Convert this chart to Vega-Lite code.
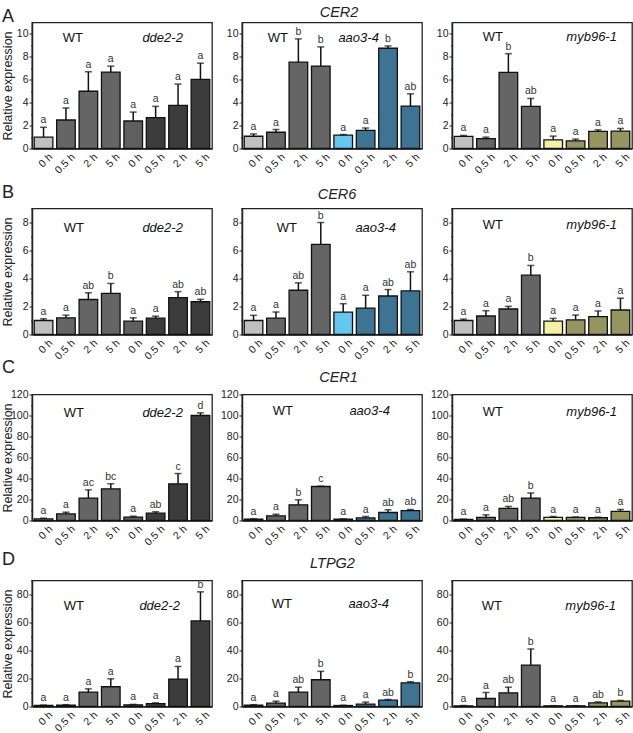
{
"$schema":"https://vega.github.io/schema/vega-lite/v6.json",
"padding":{"top":3.5,"left":0,"right":0,"bottom":0},
"datasets":{"rows":[
{"gene":"CER2","mut":"dde2-2","g":"WT","t":"0 h","v":1.0,"e":0.85,"l":"a"},
{"gene":"CER2","mut":"dde2-2","g":"WT","t":"0.5 h","v":2.49,"e":1.05,"l":"a"},
{"gene":"CER2","mut":"dde2-2","g":"WT","t":"2 h","v":5.0,"e":1.7,"l":"a"},
{"gene":"CER2","mut":"dde2-2","g":"WT","t":"5 h","v":6.67,"e":0.52,"l":"a"},
{"gene":"CER2","mut":"dde2-2","g":"dde2-2","t":"0 h","v":2.4,"e":0.78,"l":"a"},
{"gene":"CER2","mut":"dde2-2","g":"dde2-2","t":"0.5 h","v":2.7,"e":0.98,"l":"a"},
{"gene":"CER2","mut":"dde2-2","g":"dde2-2","t":"2 h","v":3.77,"e":1.85,"l":"a"},
{"gene":"CER2","mut":"dde2-2","g":"dde2-2","t":"5 h","v":6.03,"e":1.42,"l":"a"},
{"gene":"CER2","mut":"aao3-4","g":"WT","t":"0 h","v":1.07,"e":0.2,"l":"a"},
{"gene":"CER2","mut":"aao3-4","g":"WT","t":"0.5 h","v":1.42,"e":0.23,"l":"a"},
{"gene":"CER2","mut":"aao3-4","g":"WT","t":"2 h","v":7.54,"e":2.03,"l":"b"},
{"gene":"CER2","mut":"aao3-4","g":"WT","t":"5 h","v":7.2,"e":1.67,"l":"b"},
{"gene":"CER2","mut":"aao3-4","g":"aao3-4","t":"0 h","v":1.16,"e":0.06,"l":"a"},
{"gene":"CER2","mut":"aao3-4","g":"aao3-4","t":"0.5 h","v":1.59,"e":0.2,"l":"a"},
{"gene":"CER2","mut":"aao3-4","g":"aao3-4","t":"2 h","v":8.75,"e":0.2,"l":"b"},
{"gene":"CER2","mut":"aao3-4","g":"aao3-4","t":"5 h","v":3.7,"e":1.07,"l":"ab"},
{"gene":"CER2","mut":"myb96-1","g":"WT","t":"0 h","v":1.05,"e":0.09,"l":"a"},
{"gene":"CER2","mut":"myb96-1","g":"WT","t":"0.5 h","v":0.87,"e":0.12,"l":"a"},
{"gene":"CER2","mut":"myb96-1","g":"WT","t":"2 h","v":6.65,"e":1.63,"l":"b"},
{"gene":"CER2","mut":"myb96-1","g":"WT","t":"5 h","v":3.67,"e":0.7,"l":"ab"},
{"gene":"CER2","mut":"myb96-1","g":"myb96-1","t":"0 h","v":0.76,"e":0.32,"l":"a"},
{"gene":"CER2","mut":"myb96-1","g":"myb96-1","t":"0.5 h","v":0.67,"e":0.15,"l":"a"},
{"gene":"CER2","mut":"myb96-1","g":"myb96-1","t":"2 h","v":1.49,"e":0.14,"l":"a"},
{"gene":"CER2","mut":"myb96-1","g":"myb96-1","t":"5 h","v":1.52,"e":0.23,"l":"a"},
{"gene":"CER6","mut":"dde2-2","g":"WT","t":"0 h","v":1.0,"e":0.12,"l":"a"},
{"gene":"CER6","mut":"dde2-2","g":"WT","t":"0.5 h","v":1.19,"e":0.19,"l":"a"},
{"gene":"CER6","mut":"dde2-2","g":"WT","t":"2 h","v":2.5,"e":0.48,"l":"ab"},
{"gene":"CER6","mut":"dde2-2","g":"WT","t":"5 h","v":2.94,"e":0.71,"l":"b"},
{"gene":"CER6","mut":"dde2-2","g":"dde2-2","t":"0 h","v":0.95,"e":0.24,"l":"a"},
{"gene":"CER6","mut":"dde2-2","g":"dde2-2","t":"0.5 h","v":1.17,"e":0.14,"l":"a"},
{"gene":"CER6","mut":"dde2-2","g":"dde2-2","t":"2 h","v":2.63,"e":0.43,"l":"ab"},
{"gene":"CER6","mut":"dde2-2","g":"dde2-2","t":"5 h","v":2.34,"e":0.17,"l":"ab"},
{"gene":"CER6","mut":"aao3-4","g":"WT","t":"0 h","v":1.0,"e":0.37,"l":"a"},
{"gene":"CER6","mut":"aao3-4","g":"WT","t":"0.5 h","v":1.17,"e":0.43,"l":"a"},
{"gene":"CER6","mut":"aao3-4","g":"WT","t":"2 h","v":3.16,"e":0.53,"l":"ab"},
{"gene":"CER6","mut":"aao3-4","g":"WT","t":"5 h","v":6.44,"e":1.56,"l":"b"},
{"gene":"CER6","mut":"aao3-4","g":"aao3-4","t":"0 h","v":1.6,"e":0.6,"l":"a"},
{"gene":"CER6","mut":"aao3-4","g":"aao3-4","t":"0.5 h","v":1.89,"e":0.91,"l":"a"},
{"gene":"CER6","mut":"aao3-4","g":"aao3-4","t":"2 h","v":2.75,"e":0.46,"l":"ab"},
{"gene":"CER6","mut":"aao3-4","g":"aao3-4","t":"5 h","v":3.11,"e":1.37,"l":"ab"},
{"gene":"CER6","mut":"myb96-1","g":"WT","t":"0 h","v":1.0,"e":0.1,"l":"a"},
{"gene":"CER6","mut":"myb96-1","g":"WT","t":"0.5 h","v":1.32,"e":0.38,"l":"a"},
{"gene":"CER6","mut":"myb96-1","g":"WT","t":"2 h","v":1.82,"e":0.19,"l":"a"},
{"gene":"CER6","mut":"myb96-1","g":"WT","t":"5 h","v":4.24,"e":0.69,"l":"b"},
{"gene":"CER6","mut":"myb96-1","g":"myb96-1","t":"0 h","v":0.96,"e":0.19,"l":"a"},
{"gene":"CER6","mut":"myb96-1","g":"myb96-1","t":"0.5 h","v":1.05,"e":0.34,"l":"a"},
{"gene":"CER6","mut":"myb96-1","g":"myb96-1","t":"2 h","v":1.27,"e":0.41,"l":"a"},
{"gene":"CER6","mut":"myb96-1","g":"myb96-1","t":"5 h","v":1.75,"e":0.84,"l":"a"},
{"gene":"CER1","mut":"dde2-2","g":"WT","t":"0 h","v":1.6,"e":0.6,"l":"a"},
{"gene":"CER1","mut":"dde2-2","g":"WT","t":"0.5 h","v":6.3,"e":1.6,"l":"a"},
{"gene":"CER1","mut":"dde2-2","g":"WT","t":"2 h","v":21.3,"e":7.9,"l":"ac"},
{"gene":"CER1","mut":"dde2-2","g":"WT","t":"5 h","v":30.2,"e":4.8,"l":"bc"},
{"gene":"CER1","mut":"dde2-2","g":"dde2-2","t":"0 h","v":3.2,"e":0.9,"l":"a"},
{"gene":"CER1","mut":"dde2-2","g":"dde2-2","t":"0.5 h","v":7.0,"e":1.3,"l":"ab"},
{"gene":"CER1","mut":"dde2-2","g":"dde2-2","t":"2 h","v":34.9,"e":9.8,"l":"c"},
{"gene":"CER1","mut":"dde2-2","g":"dde2-2","t":"5 h","v":100,"e":2.5,"l":"d"},
{"gene":"CER1","mut":"aao3-4","g":"WT","t":"0 h","v":1.3,"e":0.3,"l":"a"},
{"gene":"CER1","mut":"aao3-4","g":"WT","t":"0.5 h","v":4.4,"e":1.6,"l":"a"},
{"gene":"CER1","mut":"aao3-4","g":"WT","t":"2 h","v":14.9,"e":4.8,"l":"b"},
{"gene":"CER1","mut":"aao3-4","g":"WT","t":"5 h","v":32.4,"e":0.3,"l":"c"},
{"gene":"CER1","mut":"aao3-4","g":"aao3-4","t":"0 h","v":1.3,"e":0.2,"l":"a"},
{"gene":"CER1","mut":"aao3-4","g":"aao3-4","t":"0.5 h","v":2.5,"e":1.3,"l":"a"},
{"gene":"CER1","mut":"aao3-4","g":"aao3-4","t":"2 h","v":7.6,"e":2.6,"l":"ab"},
{"gene":"CER1","mut":"aao3-4","g":"aao3-4","t":"5 h","v":9.5,"e":1.0,"l":"ab"},
{"gene":"CER1","mut":"myb96-1","g":"WT","t":"0 h","v":1.0,"e":0.3,"l":"a"},
{"gene":"CER1","mut":"myb96-1","g":"WT","t":"0.5 h","v":2.9,"e":2.5,"l":"a"},
{"gene":"CER1","mut":"myb96-1","g":"WT","t":"2 h","v":11.5,"e":1.9,"l":"ab"},
{"gene":"CER1","mut":"myb96-1","g":"WT","t":"5 h","v":21.4,"e":4.8,"l":"b"},
{"gene":"CER1","mut":"myb96-1","g":"myb96-1","t":"0 h","v":2.9,"e":0.9,"l":"a"},
{"gene":"CER1","mut":"myb96-1","g":"myb96-1","t":"0.5 h","v":2.9,"e":0.4,"l":"a"},
{"gene":"CER1","mut":"myb96-1","g":"myb96-1","t":"2 h","v":2.6,"e":0.5,"l":"a"},
{"gene":"CER1","mut":"myb96-1","g":"myb96-1","t":"5 h","v":8.6,"e":1.9,"l":"a"},
{"gene":"LTPG2","mut":"dde2-2","g":"WT","t":"0 h","v":0.7,"e":0.3,"l":"a"},
{"gene":"LTPG2","mut":"dde2-2","g":"WT","t":"0.5 h","v":1.0,"e":0.3,"l":"a"},
{"gene":"LTPG2","mut":"dde2-2","g":"WT","t":"2 h","v":10.3,"e":2.3,"l":"a"},
{"gene":"LTPG2","mut":"dde2-2","g":"WT","t":"5 h","v":14.1,"e":5.7,"l":"a"},
{"gene":"LTPG2","mut":"dde2-2","g":"dde2-2","t":"0 h","v":1.2,"e":0.3,"l":"a"},
{"gene":"LTPG2","mut":"dde2-2","g":"dde2-2","t":"0.5 h","v":2.1,"e":0.5,"l":"a"},
{"gene":"LTPG2","mut":"dde2-2","g":"dde2-2","t":"2 h","v":19.6,"e":9.0,"l":"a"},
{"gene":"LTPG2","mut":"dde2-2","g":"dde2-2","t":"5 h","v":61.1,"e":20.8,"l":"b"},
{"gene":"LTPG2","mut":"aao3-4","g":"WT","t":"0 h","v":1.0,"e":0.3,"l":"a"},
{"gene":"LTPG2","mut":"aao3-4","g":"WT","t":"0.5 h","v":2.4,"e":1.4,"l":"a"},
{"gene":"LTPG2","mut":"aao3-4","g":"WT","t":"2 h","v":10.3,"e":3.5,"l":"ab"},
{"gene":"LTPG2","mut":"aao3-4","g":"WT","t":"5 h","v":19.1,"e":6.0,"l":"b"},
{"gene":"LTPG2","mut":"aao3-4","g":"aao3-4","t":"0 h","v":0.7,"e":0.2,"l":"a"},
{"gene":"LTPG2","mut":"aao3-4","g":"aao3-4","t":"0.5 h","v":1.7,"e":1.4,"l":"a"},
{"gene":"LTPG2","mut":"aao3-4","g":"aao3-4","t":"2 h","v":4.5,"e":0.5,"l":"ab"},
{"gene":"LTPG2","mut":"aao3-4","g":"aao3-4","t":"5 h","v":16.9,"e":0.8,"l":"b"},
{"gene":"LTPG2","mut":"myb96-1","g":"WT","t":"0 h","v":0.5,"e":0.2,"l":"a"},
{"gene":"LTPG2","mut":"myb96-1","g":"WT","t":"0.5 h","v":5.7,"e":4.3,"l":"a"},
{"gene":"LTPG2","mut":"myb96-1","g":"WT","t":"2 h","v":9.8,"e":4.0,"l":"ab"},
{"gene":"LTPG2","mut":"myb96-1","g":"WT","t":"5 h","v":29.6,"e":11.5,"l":"b"},
{"gene":"LTPG2","mut":"myb96-1","g":"myb96-1","t":"0 h","v":0.5,"e":0.1,"l":"a"},
{"gene":"LTPG2","mut":"myb96-1","g":"myb96-1","t":"0.5 h","v":0.5,"e":0.1,"l":"a"},
{"gene":"LTPG2","mut":"myb96-1","g":"myb96-1","t":"2 h","v":2.6,"e":0.7,"l":"ab"},
{"gene":"LTPG2","mut":"myb96-1","g":"myb96-1","t":"5 h","v":3.8,"e":0.5,"l":"b"}
]},
"config":{
"font":"Liberation Sans",
"view":{"stroke":"#222","strokeWidth":1.3},
"axis":{"labelFont":"Liberation Sans","labelFontSize":10.5,"labelColor":"#222","tickColor":"#222","domainColor":"#222","domainWidth":1.5,"grid":false,"titleFont":"Liberation Sans","titleFontWeight":"normal","titleFontSize":12.5,"titleColor":"#222","tickSize":3,"labelPadding":1,"labelOverlap":false},
"axisY":{"labelOverlap":false,"labelFlush":false,"labelBound":false},
"axisQuantitative":{"labelOverlap":false},
"axisX":{"labelAngle":-45,"ticks":false,"labelPadding":3,"labelOffset":4},
"title":{"font":"Liberation Sans","fontWeight":"normal","color":"#222"},
"text":{"font":"Liberation Sans"}
},
"columns":3,
"bounds":"flush",
"spacing":{"row":60,"column":30},
"concat":[
{"width":180,"height":126,"data":{"name":"rows"},
"title":{"text":"A","anchor":"start","frame":"group","fontSize":18,"dx":-30,"offset":-17,"baseline":"alphabetic"},
"transform":[{"filter":"datum.gene=='CER2' && datum.mut=='dde2-2'"},{"calculate":"datum.g+'|'+datum.t","as":"k"},{"calculate":"datum.g+(datum.t=='0 h'?' 0':' t')","as":"ck"},{"calculate":"datum.v+datum.e","as":"hi"}],
"layer":[
{"mark":{"type":"bar","stroke":"#111","strokeWidth":1.3},"encoding":{"x":{"field":"k","type":"nominal","sort":null,"scale":{"paddingInner":0.17,"paddingOuter":0.1},"axis":{"title":null,"labelExpr":"split(datum.label,'|')[1]"}},"y":{"field":"v","type":"quantitative","scale":{"domain":[0,11],"nice":false},"axis":{"title":"Relative expression","titleX":-21,"titleY":63,"titleBaseline":"alphabetic","labelOverlap":false,"values":[0,1,2,3,4,5,6,7,8,9,10],"labelExpr":"datum.value % 2 ? '' : datum.label","tickSize":{"condition":{"test":"datum.value % 2","value":1.5},"value":3}}},"color":{"field":"ck","type":"nominal","scale":{"domain":["WT 0","WT t","dde2-2 0","dde2-2 t","aao3-4 0","aao3-4 t","myb96-1 0","myb96-1 t"],"range":["#c0c0c0","#656565","#5f5f5f","#3c3c3c","#66c6ef","#3e7493","#f4f1a6","#96945f"]},"legend":null}}},
{"mark":{"type":"rule","strokeWidth":1.5,"color":"#111"},"encoding":{"x":{"field":"k","type":"nominal","sort":null},"y":{"field":"v","type":"quantitative","axis":{"title":"Relative expression","titleX":-21,"titleY":63,"titleBaseline":"alphabetic","labelOverlap":false,"values":[0,1,2,3,4,5,6,7,8,9,10],"labelExpr":"datum.value % 2 ? '' : datum.label","tickSize":{"condition":{"test":"datum.value % 2","value":1.5},"value":3}}},"y2":{"field":"hi"}}},
{"mark":{"type":"tick","orient":"horizontal","size":7,"thickness":1.5,"color":"#111"},"encoding":{"x":{"field":"k","type":"nominal","sort":null},"y":{"field":"hi","type":"quantitative","axis":{"title":"Relative expression","titleX":-21,"titleY":63,"titleBaseline":"alphabetic","labelOverlap":false,"values":[0,1,2,3,4,5,6,7,8,9,10],"labelExpr":"datum.value % 2 ? '' : datum.label","tickSize":{"condition":{"test":"datum.value % 2","value":1.5},"value":3}}}}},
{"mark":{"type":"text","fontSize":10.5,"dy":-4,"baseline":"alphabetic","color":"#333"},"encoding":{"x":{"field":"k","type":"nominal","sort":null},"y":{"field":"hi","type":"quantitative","axis":{"title":"Relative expression","titleX":-21,"titleY":63,"titleBaseline":"alphabetic","labelOverlap":false,"values":[0,1,2,3,4,5,6,7,8,9,10],"labelExpr":"datum.value % 2 ? '' : datum.label","tickSize":{"condition":{"test":"datum.value % 2","value":1.5},"value":3}}},"text":{"field":"l"}}},
{"data":{"values":[{"s":"WT"}]},"mark":{"type":"text","fontSize":13,"dx":7,"baseline":"middle","color":"#111"},"encoding":{"x":{"datum":"WT|0.5 h","type":"nominal"},"y":{"datum":9.65,"type":"quantitative","axis":{"title":"Relative expression","titleX":-21,"titleY":63,"titleBaseline":"alphabetic","labelOverlap":false,"values":[0,1,2,3,4,5,6,7,8,9,10],"labelExpr":"datum.value % 2 ? '' : datum.label","tickSize":{"condition":{"test":"datum.value % 2","value":1.5},"value":3}}},"text":{"field":"s"}}},
{"data":{"values":[{"s":"dde2-2"}]},"mark":{"type":"text","fontSize":13,"fontStyle":"italic","dx":7,"baseline":"middle","color":"#111"},"encoding":{"x":{"datum":"dde2-2|0.5 h","type":"nominal"},"y":{"datum":9.65,"type":"quantitative","axis":{"title":"Relative expression","titleX":-21,"titleY":63,"titleBaseline":"alphabetic","labelOverlap":false,"values":[0,1,2,3,4,5,6,7,8,9,10],"labelExpr":"datum.value % 2 ? '' : datum.label","tickSize":{"condition":{"test":"datum.value % 2","value":1.5},"value":3}}},"text":{"field":"s"}}}
]},
{"width":180,"height":126,"data":{"name":"rows"},
"title":{"text":"CER2","fontStyle":"italic","fontSize":14.5,"dx":7,"offset":-8.5,"baseline":"alphabetic"},
"transform":[{"filter":"datum.gene=='CER2' && datum.mut=='aao3-4'"},{"calculate":"datum.g+'|'+datum.t","as":"k"},{"calculate":"datum.g+(datum.t=='0 h'?' 0':' t')","as":"ck"},{"calculate":"datum.v+datum.e","as":"hi"}],
"layer":[
{"mark":{"type":"bar","stroke":"#111","strokeWidth":1.3},"encoding":{"x":{"field":"k","type":"nominal","sort":null,"scale":{"paddingInner":0.17,"paddingOuter":0.1},"axis":{"title":null,"labelExpr":"split(datum.label,'|')[1]"}},"y":{"field":"v","type":"quantitative","scale":{"domain":[0,11],"nice":false},"axis":{"title":null,"labelOverlap":false,"values":[0,1,2,3,4,5,6,7,8,9,10],"labelExpr":"datum.value % 2 ? '' : datum.label","tickSize":{"condition":{"test":"datum.value % 2","value":1.5},"value":3}}},"color":{"field":"ck","type":"nominal","scale":{"domain":["WT 0","WT t","dde2-2 0","dde2-2 t","aao3-4 0","aao3-4 t","myb96-1 0","myb96-1 t"],"range":["#c0c0c0","#656565","#5f5f5f","#3c3c3c","#66c6ef","#3e7493","#f4f1a6","#96945f"]},"legend":null}}},
{"mark":{"type":"rule","strokeWidth":1.5,"color":"#111"},"encoding":{"x":{"field":"k","type":"nominal","sort":null},"y":{"field":"v","type":"quantitative","axis":{"title":null,"labelOverlap":false,"values":[0,1,2,3,4,5,6,7,8,9,10],"labelExpr":"datum.value % 2 ? '' : datum.label","tickSize":{"condition":{"test":"datum.value % 2","value":1.5},"value":3}}},"y2":{"field":"hi"}}},
{"mark":{"type":"tick","orient":"horizontal","size":7,"thickness":1.5,"color":"#111"},"encoding":{"x":{"field":"k","type":"nominal","sort":null},"y":{"field":"hi","type":"quantitative","axis":{"title":null,"labelOverlap":false,"values":[0,1,2,3,4,5,6,7,8,9,10],"labelExpr":"datum.value % 2 ? '' : datum.label","tickSize":{"condition":{"test":"datum.value % 2","value":1.5},"value":3}}}}},
{"mark":{"type":"text","fontSize":10.5,"dy":-4,"baseline":"alphabetic","color":"#333"},"encoding":{"x":{"field":"k","type":"nominal","sort":null},"y":{"field":"hi","type":"quantitative","axis":{"title":null,"labelOverlap":false,"values":[0,1,2,3,4,5,6,7,8,9,10],"labelExpr":"datum.value % 2 ? '' : datum.label","tickSize":{"condition":{"test":"datum.value % 2","value":1.5},"value":3}}},"text":{"field":"l"}}},
{"data":{"values":[{"s":"WT"}]},"mark":{"type":"text","fontSize":13,"dx":2,"baseline":"middle","color":"#111"},"encoding":{"x":{"datum":"WT|0.5 h","type":"nominal"},"y":{"datum":9.65,"type":"quantitative","axis":{"title":null,"labelOverlap":false,"values":[0,1,2,3,4,5,6,7,8,9,10],"labelExpr":"datum.value % 2 ? '' : datum.label","tickSize":{"condition":{"test":"datum.value % 2","value":1.5},"value":3}}},"text":{"field":"s"}}},
{"data":{"values":[{"s":"aao3-4"}]},"mark":{"type":"text","fontSize":13,"fontStyle":"italic","dx":-7,"baseline":"middle","color":"#111"},"encoding":{"x":{"datum":"aao3-4|0.5 h","type":"nominal"},"y":{"datum":9.65,"type":"quantitative","axis":{"title":null,"labelOverlap":false,"values":[0,1,2,3,4,5,6,7,8,9,10],"labelExpr":"datum.value % 2 ? '' : datum.label","tickSize":{"condition":{"test":"datum.value % 2","value":1.5},"value":3}}},"text":{"field":"s"}}}
]},
{"width":180,"height":126,"data":{"name":"rows"},
"transform":[{"filter":"datum.gene=='CER2' && datum.mut=='myb96-1'"},{"calculate":"datum.g+'|'+datum.t","as":"k"},{"calculate":"datum.g+(datum.t=='0 h'?' 0':' t')","as":"ck"},{"calculate":"datum.v+datum.e","as":"hi"}],
"layer":[
{"mark":{"type":"bar","stroke":"#111","strokeWidth":1.3},"encoding":{"x":{"field":"k","type":"nominal","sort":null,"scale":{"paddingInner":0.17,"paddingOuter":0.1},"axis":{"title":null,"labelExpr":"split(datum.label,'|')[1]"}},"y":{"field":"v","type":"quantitative","scale":{"domain":[0,11],"nice":false},"axis":{"title":null,"labelOverlap":false,"values":[0,1,2,3,4,5,6,7,8,9,10],"labelExpr":"datum.value % 2 ? '' : datum.label","tickSize":{"condition":{"test":"datum.value % 2","value":1.5},"value":3}}},"color":{"field":"ck","type":"nominal","scale":{"domain":["WT 0","WT t","dde2-2 0","dde2-2 t","aao3-4 0","aao3-4 t","myb96-1 0","myb96-1 t"],"range":["#c0c0c0","#656565","#5f5f5f","#3c3c3c","#66c6ef","#3e7493","#f4f1a6","#96945f"]},"legend":null}}},
{"mark":{"type":"rule","strokeWidth":1.5,"color":"#111"},"encoding":{"x":{"field":"k","type":"nominal","sort":null},"y":{"field":"v","type":"quantitative","axis":{"title":null,"labelOverlap":false,"values":[0,1,2,3,4,5,6,7,8,9,10],"labelExpr":"datum.value % 2 ? '' : datum.label","tickSize":{"condition":{"test":"datum.value % 2","value":1.5},"value":3}}},"y2":{"field":"hi"}}},
{"mark":{"type":"tick","orient":"horizontal","size":7,"thickness":1.5,"color":"#111"},"encoding":{"x":{"field":"k","type":"nominal","sort":null},"y":{"field":"hi","type":"quantitative","axis":{"title":null,"labelOverlap":false,"values":[0,1,2,3,4,5,6,7,8,9,10],"labelExpr":"datum.value % 2 ? '' : datum.label","tickSize":{"condition":{"test":"datum.value % 2","value":1.5},"value":3}}}}},
{"mark":{"type":"text","fontSize":10.5,"dy":-4,"baseline":"alphabetic","color":"#333"},"encoding":{"x":{"field":"k","type":"nominal","sort":null},"y":{"field":"hi","type":"quantitative","axis":{"title":null,"labelOverlap":false,"values":[0,1,2,3,4,5,6,7,8,9,10],"labelExpr":"datum.value % 2 ? '' : datum.label","tickSize":{"condition":{"test":"datum.value % 2","value":1.5},"value":3}}},"text":{"field":"l"}}},
{"data":{"values":[{"s":"WT"}]},"mark":{"type":"text","fontSize":13,"dx":7,"baseline":"middle","color":"#111"},"encoding":{"x":{"datum":"WT|0.5 h","type":"nominal"},"y":{"datum":9.75,"type":"quantitative","axis":{"title":null,"labelOverlap":false,"values":[0,1,2,3,4,5,6,7,8,9,10],"labelExpr":"datum.value % 2 ? '' : datum.label","tickSize":{"condition":{"test":"datum.value % 2","value":1.5},"value":3}}},"text":{"field":"s"}}},
{"data":{"values":[{"s":"myb96-1"}]},"mark":{"type":"text","fontSize":13,"fontStyle":"italic","dx":16,"baseline":"middle","color":"#111"},"encoding":{"x":{"datum":"myb96-1|0.5 h","type":"nominal"},"y":{"datum":9.75,"type":"quantitative","axis":{"title":null,"labelOverlap":false,"values":[0,1,2,3,4,5,6,7,8,9,10],"labelExpr":"datum.value % 2 ? '' : datum.label","tickSize":{"condition":{"test":"datum.value % 2","value":1.5},"value":3}}},"text":{"field":"s"}}}
]},
{"width":180,"height":126,"data":{"name":"rows"},
"title":{"text":"B","anchor":"start","frame":"group","fontSize":18,"dx":-30,"offset":-12,"baseline":"alphabetic"},
"transform":[{"filter":"datum.gene=='CER6' && datum.mut=='dde2-2'"},{"calculate":"datum.g+'|'+datum.t","as":"k"},{"calculate":"datum.g+(datum.t=='0 h'?' 0':' t')","as":"ck"},{"calculate":"datum.v+datum.e","as":"hi"}],
"layer":[
{"mark":{"type":"bar","stroke":"#111","strokeWidth":1.3},"encoding":{"x":{"field":"k","type":"nominal","sort":null,"scale":{"paddingInner":0.17,"paddingOuter":0.1},"axis":{"title":null,"labelExpr":"split(datum.label,'|')[1]"}},"y":{"field":"v","type":"quantitative","scale":{"domain":[0,9],"nice":false},"axis":{"title":"Relative expression","titleX":-21,"titleY":63,"titleBaseline":"alphabetic","labelOverlap":false,"values":[0,1,2,3,4,5,6,7,8,9],"labelExpr":"datum.value % 2 ? '' : datum.label","tickSize":{"condition":{"test":"datum.value % 2","value":1.5},"value":3}}},"color":{"field":"ck","type":"nominal","scale":{"domain":["WT 0","WT t","dde2-2 0","dde2-2 t","aao3-4 0","aao3-4 t","myb96-1 0","myb96-1 t"],"range":["#c0c0c0","#656565","#5f5f5f","#3c3c3c","#66c6ef","#3e7493","#f4f1a6","#96945f"]},"legend":null}}},
{"mark":{"type":"rule","strokeWidth":1.5,"color":"#111"},"encoding":{"x":{"field":"k","type":"nominal","sort":null},"y":{"field":"v","type":"quantitative","axis":{"title":"Relative expression","titleX":-21,"titleY":63,"titleBaseline":"alphabetic","labelOverlap":false,"values":[0,1,2,3,4,5,6,7,8,9],"labelExpr":"datum.value % 2 ? '' : datum.label","tickSize":{"condition":{"test":"datum.value % 2","value":1.5},"value":3}}},"y2":{"field":"hi"}}},
{"mark":{"type":"tick","orient":"horizontal","size":7,"thickness":1.5,"color":"#111"},"encoding":{"x":{"field":"k","type":"nominal","sort":null},"y":{"field":"hi","type":"quantitative","axis":{"title":"Relative expression","titleX":-21,"titleY":63,"titleBaseline":"alphabetic","labelOverlap":false,"values":[0,1,2,3,4,5,6,7,8,9],"labelExpr":"datum.value % 2 ? '' : datum.label","tickSize":{"condition":{"test":"datum.value % 2","value":1.5},"value":3}}}}},
{"mark":{"type":"text","fontSize":10.5,"dy":-4,"baseline":"alphabetic","color":"#333"},"encoding":{"x":{"field":"k","type":"nominal","sort":null},"y":{"field":"hi","type":"quantitative","axis":{"title":"Relative expression","titleX":-21,"titleY":63,"titleBaseline":"alphabetic","labelOverlap":false,"values":[0,1,2,3,4,5,6,7,8,9],"labelExpr":"datum.value % 2 ? '' : datum.label","tickSize":{"condition":{"test":"datum.value % 2","value":1.5},"value":3}}},"text":{"field":"l"}}},
{"data":{"values":[{"s":"WT"}]},"mark":{"type":"text","fontSize":13,"dx":8,"baseline":"middle","color":"#111"},"encoding":{"x":{"datum":"WT|0.5 h","type":"nominal"},"y":{"datum":7.6,"type":"quantitative","axis":{"title":"Relative expression","titleX":-21,"titleY":63,"titleBaseline":"alphabetic","labelOverlap":false,"values":[0,1,2,3,4,5,6,7,8,9],"labelExpr":"datum.value % 2 ? '' : datum.label","tickSize":{"condition":{"test":"datum.value % 2","value":1.5},"value":3}}},"text":{"field":"s"}}},
{"data":{"values":[{"s":"dde2-2"}]},"mark":{"type":"text","fontSize":13,"fontStyle":"italic","dx":7,"baseline":"middle","color":"#111"},"encoding":{"x":{"datum":"dde2-2|0.5 h","type":"nominal"},"y":{"datum":7.6,"type":"quantitative","axis":{"title":"Relative expression","titleX":-21,"titleY":63,"titleBaseline":"alphabetic","labelOverlap":false,"values":[0,1,2,3,4,5,6,7,8,9],"labelExpr":"datum.value % 2 ? '' : datum.label","tickSize":{"condition":{"test":"datum.value % 2","value":1.5},"value":3}}},"text":{"field":"s"}}}
]},
{"width":180,"height":126,"data":{"name":"rows"},
"title":{"text":"CER6","fontStyle":"italic","fontSize":14.5,"dx":5,"offset":-9.5,"baseline":"alphabetic"},
"transform":[{"filter":"datum.gene=='CER6' && datum.mut=='aao3-4'"},{"calculate":"datum.g+'|'+datum.t","as":"k"},{"calculate":"datum.g+(datum.t=='0 h'?' 0':' t')","as":"ck"},{"calculate":"datum.v+datum.e","as":"hi"}],
"layer":[
{"mark":{"type":"bar","stroke":"#111","strokeWidth":1.3},"encoding":{"x":{"field":"k","type":"nominal","sort":null,"scale":{"paddingInner":0.17,"paddingOuter":0.1},"axis":{"title":null,"labelExpr":"split(datum.label,'|')[1]"}},"y":{"field":"v","type":"quantitative","scale":{"domain":[0,9],"nice":false},"axis":{"title":null,"labelOverlap":false,"values":[0,1,2,3,4,5,6,7,8,9],"labelExpr":"datum.value % 2 ? '' : datum.label","tickSize":{"condition":{"test":"datum.value % 2","value":1.5},"value":3}}},"color":{"field":"ck","type":"nominal","scale":{"domain":["WT 0","WT t","dde2-2 0","dde2-2 t","aao3-4 0","aao3-4 t","myb96-1 0","myb96-1 t"],"range":["#c0c0c0","#656565","#5f5f5f","#3c3c3c","#66c6ef","#3e7493","#f4f1a6","#96945f"]},"legend":null}}},
{"mark":{"type":"rule","strokeWidth":1.5,"color":"#111"},"encoding":{"x":{"field":"k","type":"nominal","sort":null},"y":{"field":"v","type":"quantitative","axis":{"title":null,"labelOverlap":false,"values":[0,1,2,3,4,5,6,7,8,9],"labelExpr":"datum.value % 2 ? '' : datum.label","tickSize":{"condition":{"test":"datum.value % 2","value":1.5},"value":3}}},"y2":{"field":"hi"}}},
{"mark":{"type":"tick","orient":"horizontal","size":7,"thickness":1.5,"color":"#111"},"encoding":{"x":{"field":"k","type":"nominal","sort":null},"y":{"field":"hi","type":"quantitative","axis":{"title":null,"labelOverlap":false,"values":[0,1,2,3,4,5,6,7,8,9],"labelExpr":"datum.value % 2 ? '' : datum.label","tickSize":{"condition":{"test":"datum.value % 2","value":1.5},"value":3}}}}},
{"mark":{"type":"text","fontSize":10.5,"dy":-4,"baseline":"alphabetic","color":"#333"},"encoding":{"x":{"field":"k","type":"nominal","sort":null},"y":{"field":"hi","type":"quantitative","axis":{"title":null,"labelOverlap":false,"values":[0,1,2,3,4,5,6,7,8,9],"labelExpr":"datum.value % 2 ? '' : datum.label","tickSize":{"condition":{"test":"datum.value % 2","value":1.5},"value":3}}},"text":{"field":"l"}}},
{"data":{"values":[{"s":"WT"}]},"mark":{"type":"text","fontSize":13,"dx":11,"baseline":"middle","color":"#111"},"encoding":{"x":{"datum":"WT|0.5 h","type":"nominal"},"y":{"datum":7.6,"type":"quantitative","axis":{"title":null,"labelOverlap":false,"values":[0,1,2,3,4,5,6,7,8,9],"labelExpr":"datum.value % 2 ? '' : datum.label","tickSize":{"condition":{"test":"datum.value % 2","value":1.5},"value":3}}},"text":{"field":"s"}}},
{"data":{"values":[{"s":"aao3-4"}]},"mark":{"type":"text","fontSize":13,"fontStyle":"italic","dx":10,"baseline":"middle","color":"#111"},"encoding":{"x":{"datum":"aao3-4|0.5 h","type":"nominal"},"y":{"datum":7.6,"type":"quantitative","axis":{"title":null,"labelOverlap":false,"values":[0,1,2,3,4,5,6,7,8,9],"labelExpr":"datum.value % 2 ? '' : datum.label","tickSize":{"condition":{"test":"datum.value % 2","value":1.5},"value":3}}},"text":{"field":"s"}}}
]},
{"width":180,"height":126,"data":{"name":"rows"},
"transform":[{"filter":"datum.gene=='CER6' && datum.mut=='myb96-1'"},{"calculate":"datum.g+'|'+datum.t","as":"k"},{"calculate":"datum.g+(datum.t=='0 h'?' 0':' t')","as":"ck"},{"calculate":"datum.v+datum.e","as":"hi"}],
"layer":[
{"mark":{"type":"bar","stroke":"#111","strokeWidth":1.3},"encoding":{"x":{"field":"k","type":"nominal","sort":null,"scale":{"paddingInner":0.17,"paddingOuter":0.1},"axis":{"title":null,"labelExpr":"split(datum.label,'|')[1]"}},"y":{"field":"v","type":"quantitative","scale":{"domain":[0,9],"nice":false},"axis":{"title":null,"labelOverlap":false,"values":[0,1,2,3,4,5,6,7,8,9],"labelExpr":"datum.value % 2 ? '' : datum.label","tickSize":{"condition":{"test":"datum.value % 2","value":1.5},"value":3}}},"color":{"field":"ck","type":"nominal","scale":{"domain":["WT 0","WT t","dde2-2 0","dde2-2 t","aao3-4 0","aao3-4 t","myb96-1 0","myb96-1 t"],"range":["#c0c0c0","#656565","#5f5f5f","#3c3c3c","#66c6ef","#3e7493","#f4f1a6","#96945f"]},"legend":null}}},
{"mark":{"type":"rule","strokeWidth":1.5,"color":"#111"},"encoding":{"x":{"field":"k","type":"nominal","sort":null},"y":{"field":"v","type":"quantitative","axis":{"title":null,"labelOverlap":false,"values":[0,1,2,3,4,5,6,7,8,9],"labelExpr":"datum.value % 2 ? '' : datum.label","tickSize":{"condition":{"test":"datum.value % 2","value":1.5},"value":3}}},"y2":{"field":"hi"}}},
{"mark":{"type":"tick","orient":"horizontal","size":7,"thickness":1.5,"color":"#111"},"encoding":{"x":{"field":"k","type":"nominal","sort":null},"y":{"field":"hi","type":"quantitative","axis":{"title":null,"labelOverlap":false,"values":[0,1,2,3,4,5,6,7,8,9],"labelExpr":"datum.value % 2 ? '' : datum.label","tickSize":{"condition":{"test":"datum.value % 2","value":1.5},"value":3}}}}},
{"mark":{"type":"text","fontSize":10.5,"dy":-4,"baseline":"alphabetic","color":"#333"},"encoding":{"x":{"field":"k","type":"nominal","sort":null},"y":{"field":"hi","type":"quantitative","axis":{"title":null,"labelOverlap":false,"values":[0,1,2,3,4,5,6,7,8,9],"labelExpr":"datum.value % 2 ? '' : datum.label","tickSize":{"condition":{"test":"datum.value % 2","value":1.5},"value":3}}},"text":{"field":"l"}}},
{"data":{"values":[{"s":"WT"}]},"mark":{"type":"text","fontSize":13,"dx":7,"baseline":"middle","color":"#111"},"encoding":{"x":{"datum":"WT|0.5 h","type":"nominal"},"y":{"datum":7.85,"type":"quantitative","axis":{"title":null,"labelOverlap":false,"values":[0,1,2,3,4,5,6,7,8,9],"labelExpr":"datum.value % 2 ? '' : datum.label","tickSize":{"condition":{"test":"datum.value % 2","value":1.5},"value":3}}},"text":{"field":"s"}}},
{"data":{"values":[{"s":"myb96-1"}]},"mark":{"type":"text","fontSize":13,"fontStyle":"italic","dx":16,"baseline":"middle","color":"#111"},"encoding":{"x":{"datum":"myb96-1|0.5 h","type":"nominal"},"y":{"datum":7.85,"type":"quantitative","axis":{"title":null,"labelOverlap":false,"values":[0,1,2,3,4,5,6,7,8,9],"labelExpr":"datum.value % 2 ? '' : datum.label","tickSize":{"condition":{"test":"datum.value % 2","value":1.5},"value":3}}},"text":{"field":"s"}}}
]},
{"width":180,"height":126,"data":{"name":"rows"},
"title":{"text":"C","anchor":"start","frame":"group","fontSize":18,"dx":-30,"offset":-1.5,"baseline":"alphabetic"},
"transform":[{"filter":"datum.gene=='CER1' && datum.mut=='dde2-2'"},{"calculate":"datum.g+'|'+datum.t","as":"k"},{"calculate":"datum.g+(datum.t=='0 h'?' 0':' t')","as":"ck"},{"calculate":"datum.v+datum.e","as":"hi"}],
"layer":[
{"mark":{"type":"bar","stroke":"#111","strokeWidth":1.3},"encoding":{"x":{"field":"k","type":"nominal","sort":null,"scale":{"paddingInner":0.17,"paddingOuter":0.1},"axis":{"title":null,"labelExpr":"split(datum.label,'|')[1]"}},"y":{"field":"v","type":"quantitative","scale":{"domain":[0,120],"nice":false},"axis":{"title":"Relative expression","titleX":-21,"titleY":63,"titleBaseline":"alphabetic","labelOverlap":false,"values":[0,10,20,30,40,50,60,70,80,90,100,110,120],"labelExpr":"datum.value % 20 ? '' : datum.label","tickSize":{"condition":{"test":"datum.value % 20","value":1.5},"value":3}}},"color":{"field":"ck","type":"nominal","scale":{"domain":["WT 0","WT t","dde2-2 0","dde2-2 t","aao3-4 0","aao3-4 t","myb96-1 0","myb96-1 t"],"range":["#c0c0c0","#656565","#5f5f5f","#3c3c3c","#66c6ef","#3e7493","#f4f1a6","#96945f"]},"legend":null}}},
{"mark":{"type":"rule","strokeWidth":1.5,"color":"#111"},"encoding":{"x":{"field":"k","type":"nominal","sort":null},"y":{"field":"v","type":"quantitative","axis":{"title":"Relative expression","titleX":-21,"titleY":63,"titleBaseline":"alphabetic","labelOverlap":false,"values":[0,10,20,30,40,50,60,70,80,90,100,110,120],"labelExpr":"datum.value % 20 ? '' : datum.label","tickSize":{"condition":{"test":"datum.value % 20","value":1.5},"value":3}}},"y2":{"field":"hi"}}},
{"mark":{"type":"tick","orient":"horizontal","size":7,"thickness":1.5,"color":"#111"},"encoding":{"x":{"field":"k","type":"nominal","sort":null},"y":{"field":"hi","type":"quantitative","axis":{"title":"Relative expression","titleX":-21,"titleY":63,"titleBaseline":"alphabetic","labelOverlap":false,"values":[0,10,20,30,40,50,60,70,80,90,100,110,120],"labelExpr":"datum.value % 20 ? '' : datum.label","tickSize":{"condition":{"test":"datum.value % 20","value":1.5},"value":3}}}}},
{"mark":{"type":"text","fontSize":10.5,"dy":-4,"baseline":"alphabetic","color":"#333"},"encoding":{"x":{"field":"k","type":"nominal","sort":null},"y":{"field":"hi","type":"quantitative","axis":{"title":"Relative expression","titleX":-21,"titleY":63,"titleBaseline":"alphabetic","labelOverlap":false,"values":[0,10,20,30,40,50,60,70,80,90,100,110,120],"labelExpr":"datum.value % 20 ? '' : datum.label","tickSize":{"condition":{"test":"datum.value % 20","value":1.5},"value":3}}},"text":{"field":"l"}}},
{"data":{"values":[{"s":"WT"}]},"mark":{"type":"text","fontSize":13,"dx":8,"baseline":"middle","color":"#111"},"encoding":{"x":{"datum":"WT|0.5 h","type":"nominal"},"y":{"datum":102.5,"type":"quantitative","axis":{"title":"Relative expression","titleX":-21,"titleY":63,"titleBaseline":"alphabetic","labelOverlap":false,"values":[0,10,20,30,40,50,60,70,80,90,100,110,120],"labelExpr":"datum.value % 20 ? '' : datum.label","tickSize":{"condition":{"test":"datum.value % 20","value":1.5},"value":3}}},"text":{"field":"s"}}},
{"data":{"values":[{"s":"dde2-2"}]},"mark":{"type":"text","fontSize":13,"fontStyle":"italic","dx":7,"baseline":"middle","color":"#111"},"encoding":{"x":{"datum":"dde2-2|0.5 h","type":"nominal"},"y":{"datum":102.5,"type":"quantitative","axis":{"title":"Relative expression","titleX":-21,"titleY":63,"titleBaseline":"alphabetic","labelOverlap":false,"values":[0,10,20,30,40,50,60,70,80,90,100,110,120],"labelExpr":"datum.value % 20 ? '' : datum.label","tickSize":{"condition":{"test":"datum.value % 20","value":1.5},"value":3}}},"text":{"field":"s"}}}
]},
{"width":180,"height":126,"data":{"name":"rows"},
"title":{"text":"CER1","fontStyle":"italic","fontSize":14.5,"dx":6.5,"offset":-7,"baseline":"alphabetic"},
"transform":[{"filter":"datum.gene=='CER1' && datum.mut=='aao3-4'"},{"calculate":"datum.g+'|'+datum.t","as":"k"},{"calculate":"datum.g+(datum.t=='0 h'?' 0':' t')","as":"ck"},{"calculate":"datum.v+datum.e","as":"hi"}],
"layer":[
{"mark":{"type":"bar","stroke":"#111","strokeWidth":1.3},"encoding":{"x":{"field":"k","type":"nominal","sort":null,"scale":{"paddingInner":0.17,"paddingOuter":0.1},"axis":{"title":null,"labelExpr":"split(datum.label,'|')[1]"}},"y":{"field":"v","type":"quantitative","scale":{"domain":[0,120],"nice":false},"axis":{"title":null,"labelOverlap":false,"values":[0,10,20,30,40,50,60,70,80,90,100,110,120],"labelExpr":"datum.value % 20 ? '' : datum.label","tickSize":{"condition":{"test":"datum.value % 20","value":1.5},"value":3}}},"color":{"field":"ck","type":"nominal","scale":{"domain":["WT 0","WT t","dde2-2 0","dde2-2 t","aao3-4 0","aao3-4 t","myb96-1 0","myb96-1 t"],"range":["#c0c0c0","#656565","#5f5f5f","#3c3c3c","#66c6ef","#3e7493","#f4f1a6","#96945f"]},"legend":null}}},
{"mark":{"type":"rule","strokeWidth":1.5,"color":"#111"},"encoding":{"x":{"field":"k","type":"nominal","sort":null},"y":{"field":"v","type":"quantitative","axis":{"title":null,"labelOverlap":false,"values":[0,10,20,30,40,50,60,70,80,90,100,110,120],"labelExpr":"datum.value % 20 ? '' : datum.label","tickSize":{"condition":{"test":"datum.value % 20","value":1.5},"value":3}}},"y2":{"field":"hi"}}},
{"mark":{"type":"tick","orient":"horizontal","size":7,"thickness":1.5,"color":"#111"},"encoding":{"x":{"field":"k","type":"nominal","sort":null},"y":{"field":"hi","type":"quantitative","axis":{"title":null,"labelOverlap":false,"values":[0,10,20,30,40,50,60,70,80,90,100,110,120],"labelExpr":"datum.value % 20 ? '' : datum.label","tickSize":{"condition":{"test":"datum.value % 20","value":1.5},"value":3}}}}},
{"mark":{"type":"text","fontSize":10.5,"dy":-4,"baseline":"alphabetic","color":"#333"},"encoding":{"x":{"field":"k","type":"nominal","sort":null},"y":{"field":"hi","type":"quantitative","axis":{"title":null,"labelOverlap":false,"values":[0,10,20,30,40,50,60,70,80,90,100,110,120],"labelExpr":"datum.value % 20 ? '' : datum.label","tickSize":{"condition":{"test":"datum.value % 20","value":1.5},"value":3}}},"text":{"field":"l"}}},
{"data":{"values":[{"s":"WT"}]},"mark":{"type":"text","fontSize":13,"dx":7,"baseline":"middle","color":"#111"},"encoding":{"x":{"datum":"WT|0.5 h","type":"nominal"},"y":{"datum":104,"type":"quantitative","axis":{"title":null,"labelOverlap":false,"values":[0,10,20,30,40,50,60,70,80,90,100,110,120],"labelExpr":"datum.value % 20 ? '' : datum.label","tickSize":{"condition":{"test":"datum.value % 20","value":1.5},"value":3}}},"text":{"field":"s"}}},
{"data":{"values":[{"s":"aao3-4"}]},"mark":{"type":"text","fontSize":13,"fontStyle":"italic","dx":4,"baseline":"middle","color":"#111"},"encoding":{"x":{"datum":"aao3-4|0.5 h","type":"nominal"},"y":{"datum":104,"type":"quantitative","axis":{"title":null,"labelOverlap":false,"values":[0,10,20,30,40,50,60,70,80,90,100,110,120],"labelExpr":"datum.value % 20 ? '' : datum.label","tickSize":{"condition":{"test":"datum.value % 20","value":1.5},"value":3}}},"text":{"field":"s"}}}
]},
{"width":180,"height":126,"data":{"name":"rows"},
"transform":[{"filter":"datum.gene=='CER1' && datum.mut=='myb96-1'"},{"calculate":"datum.g+'|'+datum.t","as":"k"},{"calculate":"datum.g+(datum.t=='0 h'?' 0':' t')","as":"ck"},{"calculate":"datum.v+datum.e","as":"hi"}],
"layer":[
{"mark":{"type":"bar","stroke":"#111","strokeWidth":1.3},"encoding":{"x":{"field":"k","type":"nominal","sort":null,"scale":{"paddingInner":0.17,"paddingOuter":0.1},"axis":{"title":null,"labelExpr":"split(datum.label,'|')[1]"}},"y":{"field":"v","type":"quantitative","scale":{"domain":[0,120],"nice":false},"axis":{"title":null,"labelOverlap":false,"values":[0,10,20,30,40,50,60,70,80,90,100,110,120],"labelExpr":"datum.value % 20 ? '' : datum.label","tickSize":{"condition":{"test":"datum.value % 20","value":1.5},"value":3}}},"color":{"field":"ck","type":"nominal","scale":{"domain":["WT 0","WT t","dde2-2 0","dde2-2 t","aao3-4 0","aao3-4 t","myb96-1 0","myb96-1 t"],"range":["#c0c0c0","#656565","#5f5f5f","#3c3c3c","#66c6ef","#3e7493","#f4f1a6","#96945f"]},"legend":null}}},
{"mark":{"type":"rule","strokeWidth":1.5,"color":"#111"},"encoding":{"x":{"field":"k","type":"nominal","sort":null},"y":{"field":"v","type":"quantitative","axis":{"title":null,"labelOverlap":false,"values":[0,10,20,30,40,50,60,70,80,90,100,110,120],"labelExpr":"datum.value % 20 ? '' : datum.label","tickSize":{"condition":{"test":"datum.value % 20","value":1.5},"value":3}}},"y2":{"field":"hi"}}},
{"mark":{"type":"tick","orient":"horizontal","size":7,"thickness":1.5,"color":"#111"},"encoding":{"x":{"field":"k","type":"nominal","sort":null},"y":{"field":"hi","type":"quantitative","axis":{"title":null,"labelOverlap":false,"values":[0,10,20,30,40,50,60,70,80,90,100,110,120],"labelExpr":"datum.value % 20 ? '' : datum.label","tickSize":{"condition":{"test":"datum.value % 20","value":1.5},"value":3}}}}},
{"mark":{"type":"text","fontSize":10.5,"dy":-4,"baseline":"alphabetic","color":"#333"},"encoding":{"x":{"field":"k","type":"nominal","sort":null},"y":{"field":"hi","type":"quantitative","axis":{"title":null,"labelOverlap":false,"values":[0,10,20,30,40,50,60,70,80,90,100,110,120],"labelExpr":"datum.value % 20 ? '' : datum.label","tickSize":{"condition":{"test":"datum.value % 20","value":1.5},"value":3}}},"text":{"field":"l"}}},
{"data":{"values":[{"s":"WT"}]},"mark":{"type":"text","fontSize":13,"dx":7,"baseline":"middle","color":"#111"},"encoding":{"x":{"datum":"WT|0.5 h","type":"nominal"},"y":{"datum":103,"type":"quantitative","axis":{"title":null,"labelOverlap":false,"values":[0,10,20,30,40,50,60,70,80,90,100,110,120],"labelExpr":"datum.value % 20 ? '' : datum.label","tickSize":{"condition":{"test":"datum.value % 20","value":1.5},"value":3}}},"text":{"field":"s"}}},
{"data":{"values":[{"s":"myb96-1"}]},"mark":{"type":"text","fontSize":13,"fontStyle":"italic","dx":16,"baseline":"middle","color":"#111"},"encoding":{"x":{"datum":"myb96-1|0.5 h","type":"nominal"},"y":{"datum":103,"type":"quantitative","axis":{"title":null,"labelOverlap":false,"values":[0,10,20,30,40,50,60,70,80,90,100,110,120],"labelExpr":"datum.value % 20 ? '' : datum.label","tickSize":{"condition":{"test":"datum.value % 20","value":1.5},"value":3}}},"text":{"field":"s"}}}
]},
{"width":180,"height":126,"data":{"name":"rows"},
"title":{"text":"D","anchor":"start","frame":"group","fontSize":18,"dx":-30,"offset":-7,"baseline":"alphabetic"},
"transform":[{"filter":"datum.gene=='LTPG2' && datum.mut=='dde2-2'"},{"calculate":"datum.g+'|'+datum.t","as":"k"},{"calculate":"datum.g+(datum.t=='0 h'?' 0':' t')","as":"ck"},{"calculate":"datum.v+datum.e","as":"hi"}],
"layer":[
{"mark":{"type":"bar","stroke":"#111","strokeWidth":1.3},"encoding":{"x":{"field":"k","type":"nominal","sort":null,"scale":{"paddingInner":0.17,"paddingOuter":0.1},"axis":{"title":null,"labelExpr":"split(datum.label,'|')[1]"}},"y":{"field":"v","type":"quantitative","scale":{"domain":[0,90],"nice":false},"axis":{"title":"Relative expression","titleX":-21,"titleY":63,"titleBaseline":"alphabetic","labelOverlap":false,"values":[0,10,20,30,40,50,60,70,80,90],"labelExpr":"datum.value % 20 ? '' : datum.label","tickSize":{"condition":{"test":"datum.value % 20","value":1.5},"value":3}}},"color":{"field":"ck","type":"nominal","scale":{"domain":["WT 0","WT t","dde2-2 0","dde2-2 t","aao3-4 0","aao3-4 t","myb96-1 0","myb96-1 t"],"range":["#c0c0c0","#656565","#5f5f5f","#3c3c3c","#66c6ef","#3e7493","#f4f1a6","#96945f"]},"legend":null}}},
{"mark":{"type":"rule","strokeWidth":1.5,"color":"#111"},"encoding":{"x":{"field":"k","type":"nominal","sort":null},"y":{"field":"v","type":"quantitative","axis":{"title":"Relative expression","titleX":-21,"titleY":63,"titleBaseline":"alphabetic","labelOverlap":false,"values":[0,10,20,30,40,50,60,70,80,90],"labelExpr":"datum.value % 20 ? '' : datum.label","tickSize":{"condition":{"test":"datum.value % 20","value":1.5},"value":3}}},"y2":{"field":"hi"}}},
{"mark":{"type":"tick","orient":"horizontal","size":7,"thickness":1.5,"color":"#111"},"encoding":{"x":{"field":"k","type":"nominal","sort":null},"y":{"field":"hi","type":"quantitative","axis":{"title":"Relative expression","titleX":-21,"titleY":63,"titleBaseline":"alphabetic","labelOverlap":false,"values":[0,10,20,30,40,50,60,70,80,90],"labelExpr":"datum.value % 20 ? '' : datum.label","tickSize":{"condition":{"test":"datum.value % 20","value":1.5},"value":3}}}}},
{"mark":{"type":"text","fontSize":10.5,"dy":-4,"baseline":"alphabetic","color":"#333"},"encoding":{"x":{"field":"k","type":"nominal","sort":null},"y":{"field":"hi","type":"quantitative","axis":{"title":"Relative expression","titleX":-21,"titleY":63,"titleBaseline":"alphabetic","labelOverlap":false,"values":[0,10,20,30,40,50,60,70,80,90],"labelExpr":"datum.value % 20 ? '' : datum.label","tickSize":{"condition":{"test":"datum.value % 20","value":1.5},"value":3}}},"text":{"field":"l"}}},
{"data":{"values":[{"s":"WT"}]},"mark":{"type":"text","fontSize":13,"dx":8,"baseline":"middle","color":"#111"},"encoding":{"x":{"datum":"WT|0.5 h","type":"nominal"},"y":{"datum":72,"type":"quantitative","axis":{"title":"Relative expression","titleX":-21,"titleY":63,"titleBaseline":"alphabetic","labelOverlap":false,"values":[0,10,20,30,40,50,60,70,80,90],"labelExpr":"datum.value % 20 ? '' : datum.label","tickSize":{"condition":{"test":"datum.value % 20","value":1.5},"value":3}}},"text":{"field":"s"}}},
{"data":{"values":[{"s":"dde2-2"}]},"mark":{"type":"text","fontSize":13,"fontStyle":"italic","dx":4,"baseline":"middle","color":"#111"},"encoding":{"x":{"datum":"dde2-2|0.5 h","type":"nominal"},"y":{"datum":72,"type":"quantitative","axis":{"title":"Relative expression","titleX":-21,"titleY":63,"titleBaseline":"alphabetic","labelOverlap":false,"values":[0,10,20,30,40,50,60,70,80,90],"labelExpr":"datum.value % 20 ? '' : datum.label","tickSize":{"condition":{"test":"datum.value % 20","value":1.5},"value":3}}},"text":{"field":"s"}}}
]},
{"width":180,"height":126,"data":{"name":"rows"},
"title":{"text":"LTPG2","fontStyle":"italic","fontSize":14.5,"dx":0.5,"offset":-7,"baseline":"alphabetic"},
"transform":[{"filter":"datum.gene=='LTPG2' && datum.mut=='aao3-4'"},{"calculate":"datum.g+'|'+datum.t","as":"k"},{"calculate":"datum.g+(datum.t=='0 h'?' 0':' t')","as":"ck"},{"calculate":"datum.v+datum.e","as":"hi"}],
"layer":[
{"mark":{"type":"bar","stroke":"#111","strokeWidth":1.3},"encoding":{"x":{"field":"k","type":"nominal","sort":null,"scale":{"paddingInner":0.17,"paddingOuter":0.1},"axis":{"title":null,"labelExpr":"split(datum.label,'|')[1]"}},"y":{"field":"v","type":"quantitative","scale":{"domain":[0,90],"nice":false},"axis":{"title":null,"labelOverlap":false,"values":[0,10,20,30,40,50,60,70,80,90],"labelExpr":"datum.value % 20 ? '' : datum.label","tickSize":{"condition":{"test":"datum.value % 20","value":1.5},"value":3}}},"color":{"field":"ck","type":"nominal","scale":{"domain":["WT 0","WT t","dde2-2 0","dde2-2 t","aao3-4 0","aao3-4 t","myb96-1 0","myb96-1 t"],"range":["#c0c0c0","#656565","#5f5f5f","#3c3c3c","#66c6ef","#3e7493","#f4f1a6","#96945f"]},"legend":null}}},
{"mark":{"type":"rule","strokeWidth":1.5,"color":"#111"},"encoding":{"x":{"field":"k","type":"nominal","sort":null},"y":{"field":"v","type":"quantitative","axis":{"title":null,"labelOverlap":false,"values":[0,10,20,30,40,50,60,70,80,90],"labelExpr":"datum.value % 20 ? '' : datum.label","tickSize":{"condition":{"test":"datum.value % 20","value":1.5},"value":3}}},"y2":{"field":"hi"}}},
{"mark":{"type":"tick","orient":"horizontal","size":7,"thickness":1.5,"color":"#111"},"encoding":{"x":{"field":"k","type":"nominal","sort":null},"y":{"field":"hi","type":"quantitative","axis":{"title":null,"labelOverlap":false,"values":[0,10,20,30,40,50,60,70,80,90],"labelExpr":"datum.value % 20 ? '' : datum.label","tickSize":{"condition":{"test":"datum.value % 20","value":1.5},"value":3}}}}},
{"mark":{"type":"text","fontSize":10.5,"dy":-4,"baseline":"alphabetic","color":"#333"},"encoding":{"x":{"field":"k","type":"nominal","sort":null},"y":{"field":"hi","type":"quantitative","axis":{"title":null,"labelOverlap":false,"values":[0,10,20,30,40,50,60,70,80,90],"labelExpr":"datum.value % 20 ? '' : datum.label","tickSize":{"condition":{"test":"datum.value % 20","value":1.5},"value":3}}},"text":{"field":"l"}}},
{"data":{"values":[{"s":"WT"}]},"mark":{"type":"text","fontSize":13,"dx":6,"baseline":"middle","color":"#111"},"encoding":{"x":{"datum":"WT|0.5 h","type":"nominal"},"y":{"datum":73,"type":"quantitative","axis":{"title":null,"labelOverlap":false,"values":[0,10,20,30,40,50,60,70,80,90],"labelExpr":"datum.value % 20 ? '' : datum.label","tickSize":{"condition":{"test":"datum.value % 20","value":1.5},"value":3}}},"text":{"field":"s"}}},
{"data":{"values":[{"s":"aao3-4"}]},"mark":{"type":"text","fontSize":13,"fontStyle":"italic","dx":3,"baseline":"middle","color":"#111"},"encoding":{"x":{"datum":"aao3-4|0.5 h","type":"nominal"},"y":{"datum":73,"type":"quantitative","axis":{"title":null,"labelOverlap":false,"values":[0,10,20,30,40,50,60,70,80,90],"labelExpr":"datum.value % 20 ? '' : datum.label","tickSize":{"condition":{"test":"datum.value % 20","value":1.5},"value":3}}},"text":{"field":"s"}}}
]},
{"width":180,"height":126,"data":{"name":"rows"},
"transform":[{"filter":"datum.gene=='LTPG2' && datum.mut=='myb96-1'"},{"calculate":"datum.g+'|'+datum.t","as":"k"},{"calculate":"datum.g+(datum.t=='0 h'?' 0':' t')","as":"ck"},{"calculate":"datum.v+datum.e","as":"hi"}],
"layer":[
{"mark":{"type":"bar","stroke":"#111","strokeWidth":1.3},"encoding":{"x":{"field":"k","type":"nominal","sort":null,"scale":{"paddingInner":0.17,"paddingOuter":0.1},"axis":{"title":null,"labelExpr":"split(datum.label,'|')[1]"}},"y":{"field":"v","type":"quantitative","scale":{"domain":[0,90],"nice":false},"axis":{"title":null,"labelOverlap":false,"values":[0,10,20,30,40,50,60,70,80,90],"labelExpr":"datum.value % 20 ? '' : datum.label","tickSize":{"condition":{"test":"datum.value % 20","value":1.5},"value":3}}},"color":{"field":"ck","type":"nominal","scale":{"domain":["WT 0","WT t","dde2-2 0","dde2-2 t","aao3-4 0","aao3-4 t","myb96-1 0","myb96-1 t"],"range":["#c0c0c0","#656565","#5f5f5f","#3c3c3c","#66c6ef","#3e7493","#f4f1a6","#96945f"]},"legend":null}}},
{"mark":{"type":"rule","strokeWidth":1.5,"color":"#111"},"encoding":{"x":{"field":"k","type":"nominal","sort":null},"y":{"field":"v","type":"quantitative","axis":{"title":null,"labelOverlap":false,"values":[0,10,20,30,40,50,60,70,80,90],"labelExpr":"datum.value % 20 ? '' : datum.label","tickSize":{"condition":{"test":"datum.value % 20","value":1.5},"value":3}}},"y2":{"field":"hi"}}},
{"mark":{"type":"tick","orient":"horizontal","size":7,"thickness":1.5,"color":"#111"},"encoding":{"x":{"field":"k","type":"nominal","sort":null},"y":{"field":"hi","type":"quantitative","axis":{"title":null,"labelOverlap":false,"values":[0,10,20,30,40,50,60,70,80,90],"labelExpr":"datum.value % 20 ? '' : datum.label","tickSize":{"condition":{"test":"datum.value % 20","value":1.5},"value":3}}}}},
{"mark":{"type":"text","fontSize":10.5,"dy":-4,"baseline":"alphabetic","color":"#333"},"encoding":{"x":{"field":"k","type":"nominal","sort":null},"y":{"field":"hi","type":"quantitative","axis":{"title":null,"labelOverlap":false,"values":[0,10,20,30,40,50,60,70,80,90],"labelExpr":"datum.value % 20 ? '' : datum.label","tickSize":{"condition":{"test":"datum.value % 20","value":1.5},"value":3}}},"text":{"field":"l"}}},
{"data":{"values":[{"s":"WT"}]},"mark":{"type":"text","fontSize":13,"dx":6,"baseline":"middle","color":"#111"},"encoding":{"x":{"datum":"WT|0.5 h","type":"nominal"},"y":{"datum":72,"type":"quantitative","axis":{"title":null,"labelOverlap":false,"values":[0,10,20,30,40,50,60,70,80,90],"labelExpr":"datum.value % 20 ? '' : datum.label","tickSize":{"condition":{"test":"datum.value % 20","value":1.5},"value":3}}},"text":{"field":"s"}}},
{"data":{"values":[{"s":"myb96-1"}]},"mark":{"type":"text","fontSize":13,"fontStyle":"italic","dx":15,"baseline":"middle","color":"#111"},"encoding":{"x":{"datum":"myb96-1|0.5 h","type":"nominal"},"y":{"datum":72,"type":"quantitative","axis":{"title":null,"labelOverlap":false,"values":[0,10,20,30,40,50,60,70,80,90],"labelExpr":"datum.value % 20 ? '' : datum.label","tickSize":{"condition":{"test":"datum.value % 20","value":1.5},"value":3}}},"text":{"field":"s"}}}
]}
]
}
